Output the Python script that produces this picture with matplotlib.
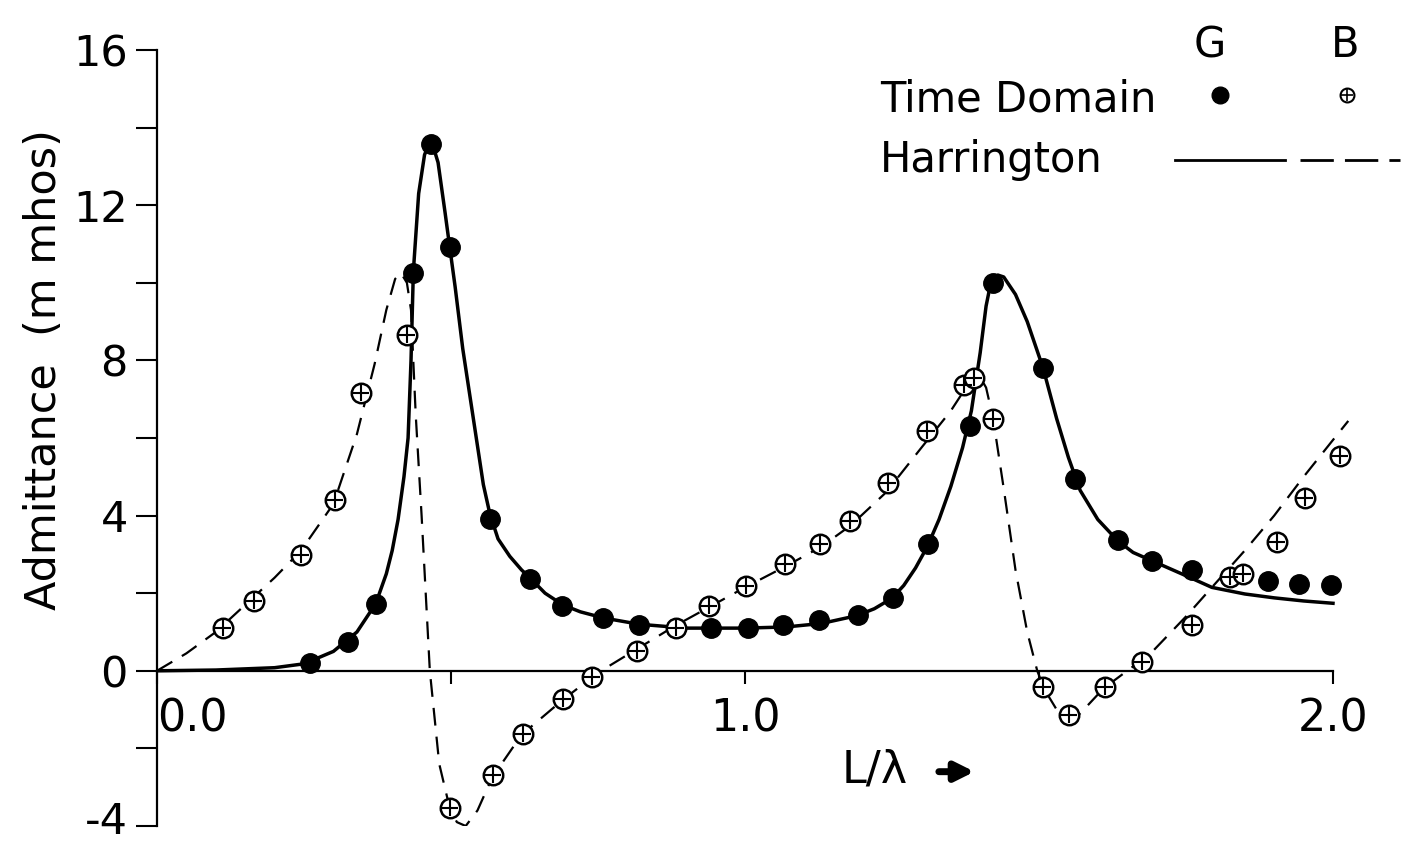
import matplotlib
matplotlib.use('Agg')
import matplotlib.pyplot as plt
from matplotlib.lines import Line2D
from matplotlib.transforms import offset_copy

plt.rcParams['font.family'] = ['DejaVu Sans']
plt.rcParams['axes.unicode_minus'] = False

# Harrington curves
g_curve_x = [0, 0.1, 0.2, 0.25, 0.3, 0.34, 0.372, 0.39, 0.40, 0.41, 0.42, 0.427, 0.432,
             0.436, 0.445, 0.455, 0.466, 0.478, 0.49, 0.498, 0.507, 0.52, 0.53, 0.545,
             0.555, 0.566, 0.58, 0.6, 0.62, 0.634, 0.66, 0.69, 0.72, 0.76, 0.82, 0.9,
             1.0, 1.07, 1.13, 1.19, 1.22, 1.25, 1.27, 1.29, 1.31, 1.33, 1.35, 1.37,
             1.385, 1.40, 1.41, 1.418, 1.43, 1.44, 1.46, 1.48, 1.507, 1.53, 1.55,
             1.57, 1.6, 1.634, 1.66, 1.69, 1.75, 1.794, 1.85, 1.9, 1.95, 2.0]
g_curve_y = [0, 0.02, 0.08, 0.18, 0.5, 1.0, 1.73, 2.5, 3.1, 3.9, 5.0, 6.0, 8.0,
             10.3, 12.3, 13.3, 13.7, 13.1, 11.8, 10.9, 9.9, 8.3, 7.3, 5.8,
             4.8, 4.05, 3.4, 2.95, 2.6, 2.4, 2.0, 1.7, 1.52, 1.36, 1.2, 1.1,
             1.1, 1.13, 1.22, 1.42, 1.6, 1.87, 2.2, 2.65, 3.2, 3.9, 4.75, 5.75,
             6.7, 8.2, 9.4, 10.0, 10.2, 10.15, 9.7, 9.0, 7.8, 6.5, 5.5,
             4.65, 3.9, 3.35, 3.05, 2.85, 2.45, 2.15, 1.98, 1.88, 1.8, 1.74]

b_curve_x = [0, 0.05, 0.1, 0.15, 0.2, 0.245, 0.3, 0.34, 0.37, 0.39, 0.405, 0.415,
             0.425, 0.432, 0.44, 0.45, 0.464, 0.48, 0.498, 0.51, 0.525, 0.545, 0.57,
             0.62, 0.69, 0.75, 0.815, 0.88, 0.94, 1.0, 1.07, 1.13, 1.18, 1.24, 1.3,
             1.35, 1.378, 1.395, 1.41, 1.422, 1.44, 1.46, 1.48, 1.497, 1.51, 1.53,
             1.55, 1.57, 1.61, 1.65, 1.69, 1.75, 1.794, 1.85, 1.9, 1.95, 2.0, 2.026]
b_curve_y = [0, 0.45, 1.0, 1.7, 2.4, 3.1, 4.3, 6.1, 7.9, 9.3, 10.1, 10.25,
             10.0, 9.3, 6.6, 4.0, 0.0, -2.4, -3.55, -3.9, -4.0, -3.6, -2.75,
             -1.65, -0.75, -0.05, 0.55, 1.15, 1.65, 2.15, 2.7, 3.2, 3.75, 4.6, 5.75,
             6.7, 7.35, 7.7, 7.3, 6.5, 4.7, 2.6, 1.0, 0.0, -0.5, -1.0,
             -1.22, -1.1, -0.45, 0.0, 0.45, 1.4, 2.15, 3.1, 4.0, 5.0, 5.95, 6.44]

# Time Domain points
g_pts_x = [0.260, 0.325, 0.372, 0.435, 0.466, 0.498, 0.566, 0.634, 0.688, 0.759, 0.820,
           0.883, 0.942, 1.005, 1.065, 1.125, 1.192, 1.252, 1.311, 1.383, 1.422, 1.507,
           1.561, 1.634, 1.692, 1.760, 1.824, 1.890, 1.942, 1.996]
g_pts_y = [0.19, 0.74, 1.73, 10.26, 13.59, 10.93, 3.9, 2.37, 1.66, 1.36, 1.19,
           1.10, 1.10, 1.10, 1.17, 1.30, 1.44, 1.87, 3.26, 6.3, 10.0, 7.8,
           4.95, 3.38, 2.84, 2.60, 2.42, 2.32, 2.24, 2.22]

b_pts_x = [0.113, 0.165, 0.245, 0.302, 0.347, 0.426, 0.498, 0.571, 0.622, 0.690, 0.739,
           0.816, 0.883, 0.939, 1.002, 1.068, 1.128, 1.179, 1.243, 1.310, 1.372, 1.390,
           1.422, 1.507, 1.551, 1.612, 1.675, 1.760, 1.824, 1.847, 1.905, 1.952, 2.012]
b_pts_y = [1.10, 1.81, 2.99, 4.40, 7.15, 8.65, -3.53, -2.69, -1.63, -0.73, -0.15,
           0.50, 1.10, 1.68, 2.18, 2.74, 3.26, 3.85, 4.85, 6.18, 7.36, 7.55,
           6.5, -0.41, -1.13, -0.41, 0.23, 1.17, 2.41, 2.50, 3.32, 4.46, 5.53]

x_ticks = [0, 0.5, 1.0, 1.5, 2.0]
x_ticklabels = ['0.0', '', '1.0', '', '2.0']
y_major = [-4, 0, 4, 8, 12, 16]
y_minor = [-2, 2, 6, 10, 14]

fig = plt.figure(figsize=(14.06, 8.43), dpi=100)
ax = fig.add_axes([157/1406, 17/843, (1395-157)/1406, 776/843])
ax.set_xlim(0, (1395-157)/588)
ax.set_ylim(-4, 16)

ax.plot(g_curve_x, g_curve_y, color='black', lw=2.5, solid_joinstyle='round')
ax.plot(b_curve_x, b_curve_y, color='black', lw=1.6, dashes=(8, 5))

ax.plot(g_pts_x, g_pts_y, 'o', color='black', ms=14, clip_on=False, zorder=3)
ax.plot(b_pts_x, b_pts_y, 'o', mfc='white', mec='black', mew=1.8, ms=14,
        clip_on=False, zorder=4)
ax.plot(b_pts_x, b_pts_y, '+', color='black', mew=1.5, ms=12, clip_on=False, zorder=5)

for s in ['top', 'right']:
    ax.spines[s].set_visible(False)
ax.spines['left'].set_linewidth(1.6)
ax.spines['left'].set_bounds(-4, 16)
ax.spines['bottom'].set_position(('data', 0))
ax.spines['bottom'].set_bounds(0, 2.0)
ax.spines['bottom'].set_linewidth(1.6)

ax.set_yticks(y_major)
ax.set_yticks(y_minor, minor=True)
ax.tick_params(axis='y', which='both', direction='out', length=15, width=1.5,
               labelsize=31, pad=6)
ax.set_xticks(x_ticks, x_ticklabels)
ax.tick_params(axis='x', direction='out', length=9, width=1.5, labelsize=32, pad=10)
ax.get_xticklabels()[0].set_horizontalalignment('left')
# lift the bottom "-4" label a little so it stays inside the picture
low = ax.get_yticklabels()[0]
low.set_transform(offset_copy(low.get_transform(), fig=fig, x=0, y=9, units='dots'))

fig.text(44/1406, 1-370/843, 'Admittance  (m mhos)', fontsize=31, rotation=90,
         ha='center', va='center')
ax.text(1.22, -2.55, 'L/\u03bb', fontsize=32, ha='center', va='center')
ax.annotate('', xy=(1.395, -2.6), xytext=(1.325, -2.6),
            arrowprops=dict(arrowstyle='-|>', color='black', lw=5, mutation_scale=28))

# legend block
fig.text(1210/1406, 1-45/843, 'G', fontsize=30, ha='center', va='center')
fig.text(1345/1406, 1-45/843, 'B', fontsize=30, ha='center', va='center')
fig.text(880/1406, 1-100/843, 'Time Domain', fontsize=30, ha='left', va='center')
fig.text(880/1406, 1-160/843, 'Harrington', fontsize=30, ha='left', va='center')
fig.add_artist(Line2D([1220/1406], [1-95/843], marker='o', color='black', ms=12,
                      transform=fig.transFigure))
fig.add_artist(Line2D([1347/1406], [1-95/843], marker='o', mfc='white', mec='black',
                      mew=1.5, ms=10, transform=fig.transFigure))
fig.add_artist(Line2D([1347/1406], [1-95/843], marker='+', color='black',
                      mew=1.2, ms=8, transform=fig.transFigure))
fig.add_artist(Line2D([1175/1406, 1285/1406], [1-160/843, 1-160/843], color='black',
                      lw=2, transform=fig.transFigure))
fig.add_artist(Line2D([1300/1406, 1400/1406], [1-160/843, 1-160/843], color='black',
                      lw=2, dashes=(12, 4), transform=fig.transFigure))

fig.savefig('out.png', dpi=100)
